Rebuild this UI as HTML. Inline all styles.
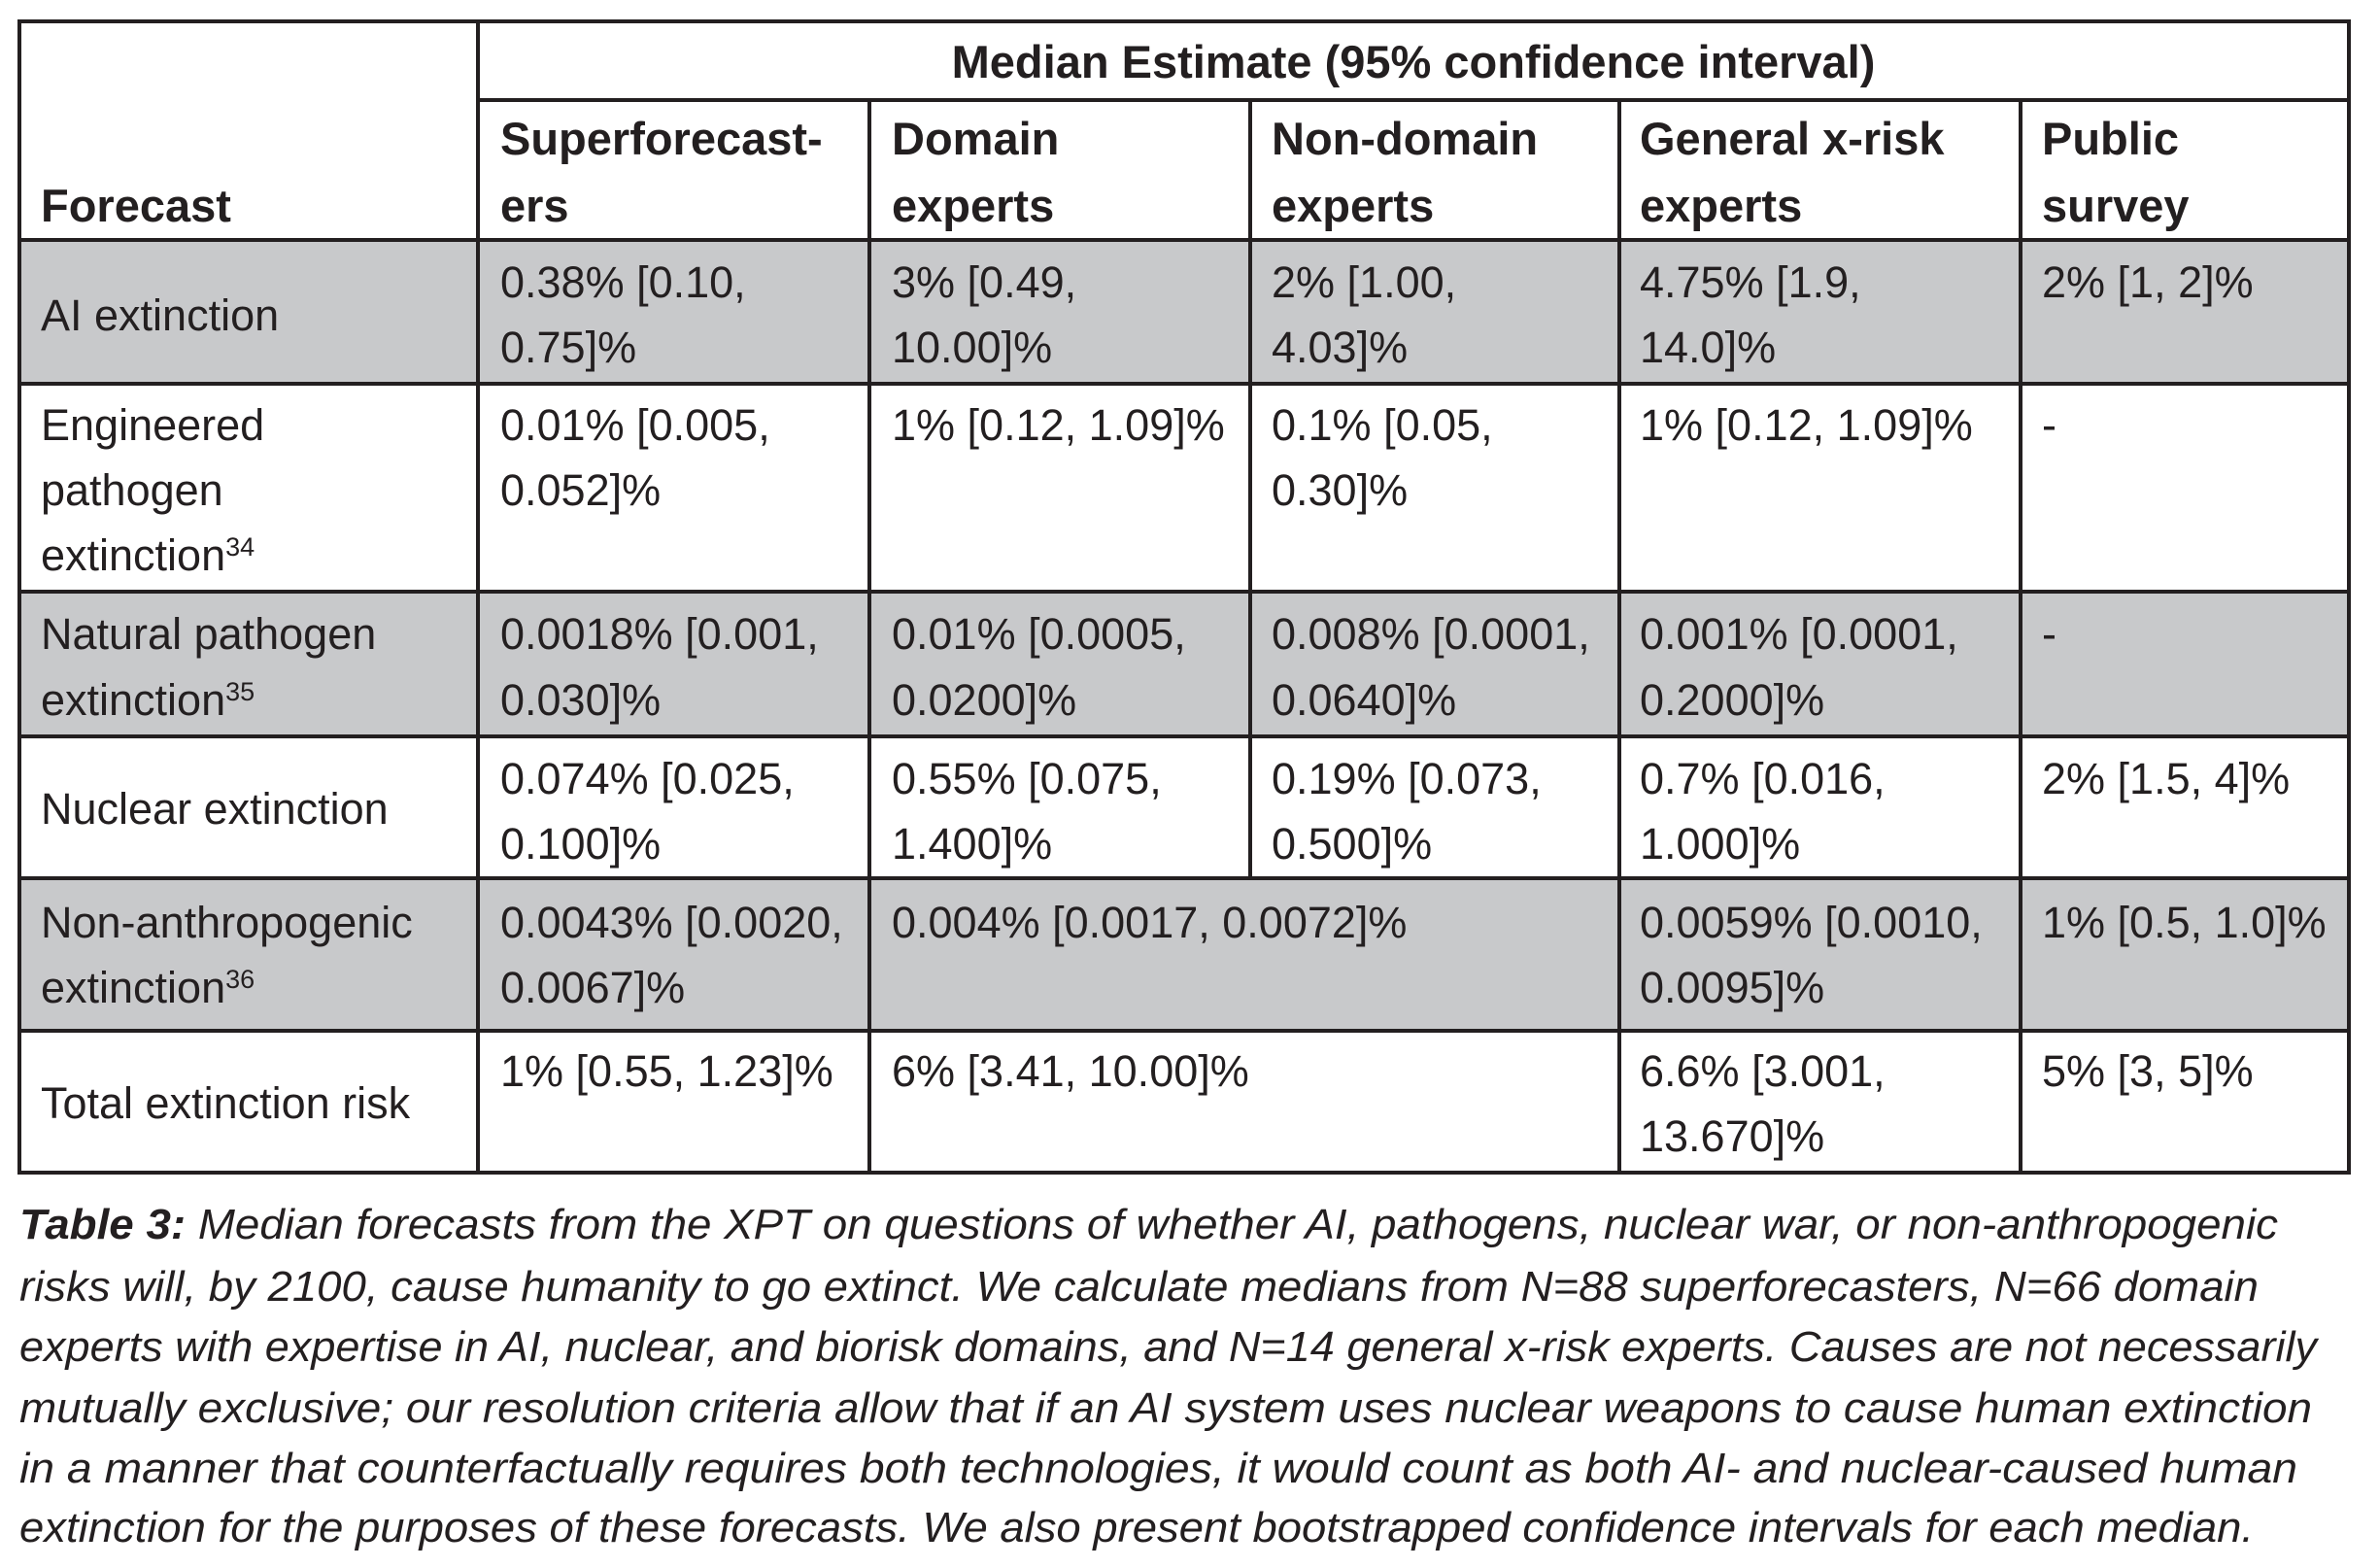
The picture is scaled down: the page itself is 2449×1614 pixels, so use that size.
<!DOCTYPE html>
<html><head><meta charset="utf-8"><style>
html,body{margin:0;padding:0;background:#fff;}
svg{display:block;}
text{font-family:"Liberation Sans",sans-serif;fill:#231f20;}
.c{font-size:45px;}
.h{font-size:47px;font-weight:bold;}
.cap{font-size:44px;font-style:italic;}
.sup{font-size:27px;}
</style></head><body>
<svg width="2449" height="1614" viewBox="0 0 2449 1614">
<g fill="#c8c9cb">
<rect x="20" y="247" width="2398" height="148"/>
<rect x="20" y="609" width="2398" height="149"/>
<rect x="20" y="904" width="2398" height="157"/>
</g>
<g stroke="#231f20" stroke-width="4" fill="none">
<rect x="20" y="22" width="2398" height="1185"/>
<line x1="492" y1="103" x2="2418" y2="103"/>
<line x1="20" y1="247" x2="2418" y2="247"/>
<line x1="20" y1="395" x2="2418" y2="395"/>
<line x1="20" y1="609" x2="2418" y2="609"/>
<line x1="20" y1="758" x2="2418" y2="758"/>
<line x1="20" y1="904" x2="2418" y2="904"/>
<line x1="20" y1="1061" x2="2418" y2="1061"/>
<line x1="492" y1="22" x2="492" y2="1207"/>
<line x1="895" y1="103" x2="895" y2="1207"/>
<line x1="1287" y1="103" x2="1287" y2="904"/>
<line x1="1667" y1="103" x2="1667" y2="1207"/>
<line x1="2080" y1="103" x2="2080" y2="1207"/>
</g>
<g>
<text class="h" x="1455" y="80" text-anchor="middle">Median Estimate (95% confidence interval)</text>
<text class="h" x="42" y="228">Forecast</text>
<text class="h" x="515" y="159">Superforecast-<tspan x="515" y="228">ers</tspan></text>
<text class="h" x="918" y="159">Domain<tspan x="918" y="228">experts</tspan></text>
<text class="h" x="1309" y="159">Non-domain<tspan x="1309" y="228">experts</tspan></text>
<text class="h" x="1688" y="159">General x-risk<tspan x="1688" y="228">experts</tspan></text>
<text class="h" x="2102" y="159">Public<tspan x="2102" y="228">survey</tspan></text>
</g>
<g>
<text class="c" x="42" y="340">AI extinction</text>
<text class="c" x="515" y="306">0.38% [0.10,<tspan x="515" y="373">0.75]%</tspan></text>
<text class="c" x="918" y="306">3% [0.49,<tspan x="918" y="373">10.00]%</tspan></text>
<text class="c" x="1309" y="306">2% [1.00,<tspan x="1309" y="373">4.03]%</tspan></text>
<text class="c" x="1688" y="306">4.75% [1.9,<tspan x="1688" y="373">14.0]%</tspan></text>
<text class="c" x="2102" y="306">2% [1, 2]%</text>
</g>
<g>
<text class="c" x="42" y="453">Engineered<tspan x="42" y="520">pathogen</tspan><tspan x="42" y="587">extinction</tspan><tspan class="sup" dy="-15">34</tspan></text>
<text class="c" x="515" y="453">0.01% [0.005,<tspan x="515" y="520">0.052]%</tspan></text>
<text class="c" x="918" y="453">1% [0.12, 1.09]%</text>
<text class="c" x="1309" y="453">0.1% [0.05,<tspan x="1309" y="520">0.30]%</tspan></text>
<text class="c" x="1688" y="453">1% [0.12, 1.09]%</text>
<text class="c" x="2102" y="453">-</text>
</g>
<g>
<text class="c" x="42" y="668">Natural pathogen<tspan x="42" y="736">extinction</tspan><tspan class="sup" dy="-15">35</tspan></text>
<text class="c" x="515" y="668">0.0018% [0.001,<tspan x="515" y="736">0.030]%</tspan></text>
<text class="c" x="918" y="668">0.01% [0.0005,<tspan x="918" y="736">0.0200]%</tspan></text>
<text class="c" x="1309" y="668">0.008% [0.0001,<tspan x="1309" y="736">0.0640]%</tspan></text>
<text class="c" x="1688" y="668">0.001% [0.0001,<tspan x="1688" y="736">0.2000]%</tspan></text>
<text class="c" x="2102" y="668">-</text>
</g>
<g>
<text class="c" x="42" y="848">Nuclear extinction</text>
<text class="c" x="515" y="817">0.074% [0.025,<tspan x="515" y="884">0.100]%</tspan></text>
<text class="c" x="918" y="817">0.55% [0.075,<tspan x="918" y="884">1.400]%</tspan></text>
<text class="c" x="1309" y="817">0.19% [0.073,<tspan x="1309" y="884">0.500]%</tspan></text>
<text class="c" x="1688" y="817">0.7% [0.016,<tspan x="1688" y="884">1.000]%</tspan></text>
<text class="c" x="2102" y="817">2% [1.5, 4]%</text>
</g>
<g>
<text class="c" x="42" y="965">Non-anthropogenic<tspan x="42" y="1032">extinction</tspan><tspan class="sup" dy="-15">36</tspan></text>
<text class="c" x="515" y="965">0.0043% [0.0020,<tspan x="515" y="1032">0.0067]%</tspan></text>
<text class="c" x="918" y="965">0.004% [0.0017, 0.0072]%</text>
<text class="c" x="1688" y="965">0.0059% [0.0010,<tspan x="1688" y="1032">0.0095]%</tspan></text>
<text class="c" x="2102" y="965">1% [0.5, 1.0]%</text>
</g>
<g>
<text class="c" x="42" y="1151">Total extinction risk</text>
<text class="c" x="515" y="1118">1% [0.55, 1.23]%</text>
<text class="c" x="918" y="1118">6% [3.41, 10.00]%</text>
<text class="c" x="1688" y="1118">6.6% [3.001,<tspan x="1688" y="1185">13.670]%</tspan></text>
<text class="c" x="2102" y="1118">5% [3, 5]%</text>
</g>
<g>
<text class="cap" x="20" y="1275" textLength="2325" lengthAdjust="spacingAndGlyphs"><tspan font-weight="bold">Table 3:</tspan> Median forecasts from the XPT on questions of whether AI, pathogens, nuclear war, or non-anthropogenic</text>
<text class="cap" x="20" y="1339" textLength="2305" lengthAdjust="spacingAndGlyphs">risks will, by 2100, cause humanity to go extinct. We calculate medians from N=88 superforecasters, N=66 domain</text>
<text class="cap" x="20" y="1401" textLength="2365" lengthAdjust="spacingAndGlyphs">experts with expertise in AI, nuclear, and biorisk domains, and N=14 general x-risk experts. Causes are not necessarily</text>
<text class="cap" x="20" y="1464" textLength="2360" lengthAdjust="spacingAndGlyphs">mutually exclusive; our resolution criteria allow that if an AI system uses nuclear weapons to cause human extinction</text>
<text class="cap" x="20" y="1526" textLength="2345" lengthAdjust="spacingAndGlyphs">in a manner that counterfactually requires both technologies, it would count as both AI- and nuclear-caused human</text>
<text class="cap" x="20" y="1587" textLength="2300" lengthAdjust="spacingAndGlyphs">extinction for the purposes of these forecasts. We also present bootstrapped confidence intervals for each median.</text>
</g>
</svg>
</body></html>
